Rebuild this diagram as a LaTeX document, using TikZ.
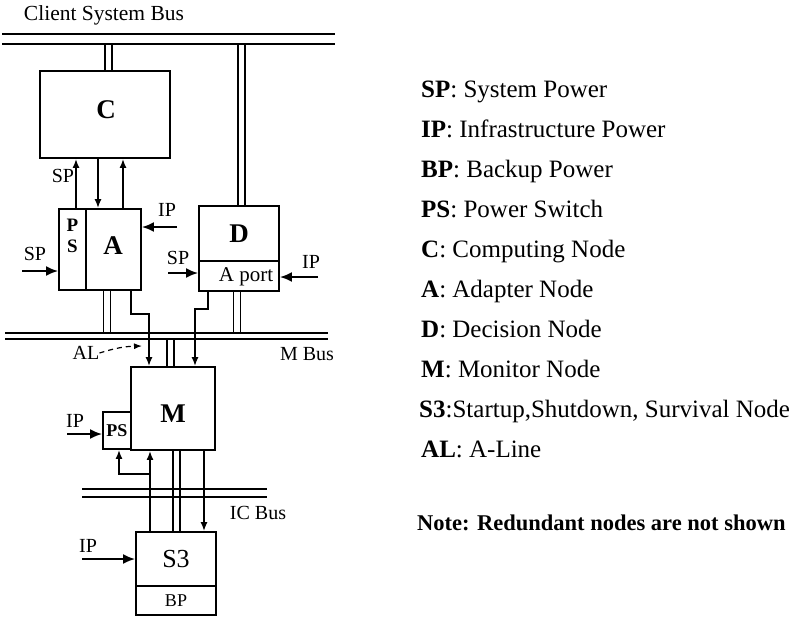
\documentclass[tikz,border=0pt]{standalone}
\usepackage{fontspec}
\setmainfont{Liberation Serif}
\usetikzlibrary{arrows.meta,positioning,calc}

\newcommand{\setfs}[1]{\fontsize{#1}{#1}\selectfont}

\tikzset{
  box/.style={draw,line width=1.9pt,inner sep=0pt},
  big/.style={font=\bfseries\setfs{27}},
  lbl/.style={inner sep=0pt,font=\setfs{20}},
  key/.style={anchor=base west,inner sep=0pt,font=\setfs{25}},
  pair/.style={line width=1.7pt,double,double distance=5.5pt},
  bus/.style={line width=2pt},
  pwr/.style={line width=1.9pt,-{Latex[length=12pt,width=10pt]}},
  sig/.style={line width=1.5pt,-{Latex[length=9pt,width=7pt]}}
}

\begin{document}
\begin{tikzpicture}[x=1pt,y=-1pt]
\useasboundingbox (0,0) rectangle (791,616);

% nodes
\node[box,minimum width=130pt,minimum height=87pt] (C) at (105,114.5) {};
\node[big] (Ctxt) at (106,110) {C};
\node[box,minimum width=27pt,minimum height=81pt] (PSa) at (72.5,249.5) {};
\node[lbl,font=\bfseries\fontsize{19}{21}\selectfont,align=center] (PSatxt) at (72.5,236) {P\\S};
\node[box,minimum width=55pt,minimum height=81pt] (A) at (113.5,249.5) {};
\node[big] (Atxt) at (113,246) {A};
\node[box,big,minimum width=80pt,minimum height=55pt] (D) at (239,233.5) {D};
\node[box,minimum width=80pt,minimum height=30pt] (Aport) at (239,276) {};
\node[lbl,font=\setfs{21}] (Aporttxt) at (246,277) {A port};
\node[box,minimum width=84pt,minimum height=83pt] (M) at (173,408.5) {};
\node[big] (Mtxt) at (173,414) {M};
\node[box,font=\bfseries\setfs{18},minimum width=28pt,minimum height=37pt] (PSm) at (117,430.5) {PS};
\node[box,font=\setfs{26},minimum width=80pt,minimum height=54pt] (S3) at (176,559) {S3};
\node[box,font=\setfs{18},minimum width=80pt,minimum height=29pt] (BP) at (176,600.5) {BP};

% buses
\coordinate (cbus1) at (2,34);
\coordinate (cbus2) at (2,44);
\coordinate (mbus1) at (5,333);
\coordinate (mbus2) at (5,339);
\coordinate (icbus1) at (82,489);
\coordinate (icbus2) at (82,497);

\draw[pair] ([xshift=3.5pt]C.north) -- ([xshift=3.5pt]C.north |- cbus2);
\draw[pair] ([xshift=2.5pt]D.north) -- ([xshift=2.5pt]D.north |- cbus2);
\draw[pair] ([xshift=-6.5pt]A.south) -- ([xshift=-6.5pt]A.south |- mbus1);
\draw[pair] ([xshift=-2pt]Aport.south) -- ([xshift=-2pt]Aport.south |- mbus1);
\draw[pair] ([xshift=-2.5pt]M.north) -- ([xshift=-2.5pt]M.north |- mbus2);
\draw[pair] ([xshift=3.5pt]M.south) -- ([xshift=3.5pt]M.south |- S3.north);

\draw[bus] (cbus1) -- ++(333,0) (cbus2) -- ++(333,0);
\draw[bus] (mbus1) -- ++(323,0) (mbus2) -- ++(323,0);
\draw[bus] (icbus1) -- ++(185,0) (icbus2) -- ++(185,0);

% lines between C, A and M
\draw[sig] ([xshift=3.5pt]PSa.north) -- ([xshift=3.5pt]PSa.north |- C.south);
\draw[sig] ([xshift=-15.5pt]A.north |- C.south) -- ([xshift=-15.5pt]A.north);
\draw[sig] ([xshift=9.5pt]A.north) -- ([xshift=9.5pt]A.north |- C.south);
\draw[sig] ([xshift=17.5pt]A.south) -- ++(0,23) -| ([xshift=-24pt]M.north);
\draw[sig] ([xshift=-31pt]Aport.south) -- ++(0,17) -| ([xshift=22pt]M.north);
\draw[sig] ([xshift=-26pt]S3.north) -- ([xshift=-26pt]S3.north |- M.south);
\draw[sig] ([xshift=-23pt,yshift=-23pt]M.south) -| ([xshift=2pt]PSm.south);
\draw[sig] ([xshift=31pt]M.south) -- ([xshift=31pt]M.south |- S3.north);

% power inputs
\coordinate (ipA) at (177,227);
\coordinate (spA) at (22,271);
\coordinate (spD) at (168,273);
\coordinate (ipD) at (318,277);
\coordinate (ipM) at (67,434);
\coordinate (ipS) at (82,559);
\draw[pwr] (ipA) -- (ipA -| A.east);
\draw[pwr] (spA) -- (spA -| PSa.west);
\draw[pwr] (spD) -- (spD -| Aport.west);
\draw[pwr] (ipD) -- (ipD -| Aport.east);
\draw[pwr] (ipM) -- (ipM -| PSm.west);
\draw[pwr] (ipS) -- (ipS -| S3.west);

% labels
\node[lbl,font=\setfs{21.5}] (cbustxt) at (104,15) {Client System Bus};
\node[lbl] (spC) at (63,176) {SP};
\node[lbl] (ipAtxt) at (167,210) {IP};
\node[lbl] (spAtxt) at (35,254) {SP};
\node[lbl] (spDtxt) at (178,258) {SP};
\node[lbl] (ipDtxt) at (311,262) {IP};
\node[lbl] (AL) at (86,353) {AL};
\node[lbl] (mbustxt) at (307,354) {M Bus};
\node[lbl] (ipMtxt) at (75,421) {IP};
\node[lbl] (icbustxt) at (258,513) {IC Bus};
\node[lbl] (ipStxt) at (88,546) {IP};

\coordinate (altip) at (142,346);
\draw[line width=1.2pt,dash pattern=on 5pt off 4pt,-{Latex[length=8pt,width=6pt]}] (AL.east) to[bend left=8] (altip);

% key
\node[key] (kSP) at (421,97) {\textbf{SP}: System Power};
\node[key] (kIP) at (421,137) {\textbf{IP}: Infrastructure Power};
\node[key] (kBP) at (421,177) {\textbf{BP}: Backup Power};
\node[key] (kPS) at (421,217) {\textbf{PS}: Power Switch};
\node[key] (kC) at (421,257) {\textbf{C}: Computing Node};
\node[key] (kA) at (421,297) {\textbf{A}: Adapter Node};
\node[key] (kD) at (421,337) {\textbf{D}: Decision Node};
\node[key] (kM) at (421,377) {\textbf{M}: Monitor Node};
\node[key] (kS3) at (419,417) {\textbf{S3}:Startup,Shutdown, Survival Node};
\node[key] (kAL) at (421,457) {\textbf{AL}: A-Line};
\node[key,font=\bfseries\setfs{22.5}] (note) at (417,530) {Note: Redundant nodes are not shown};
\end{tikzpicture}
\end{document}
